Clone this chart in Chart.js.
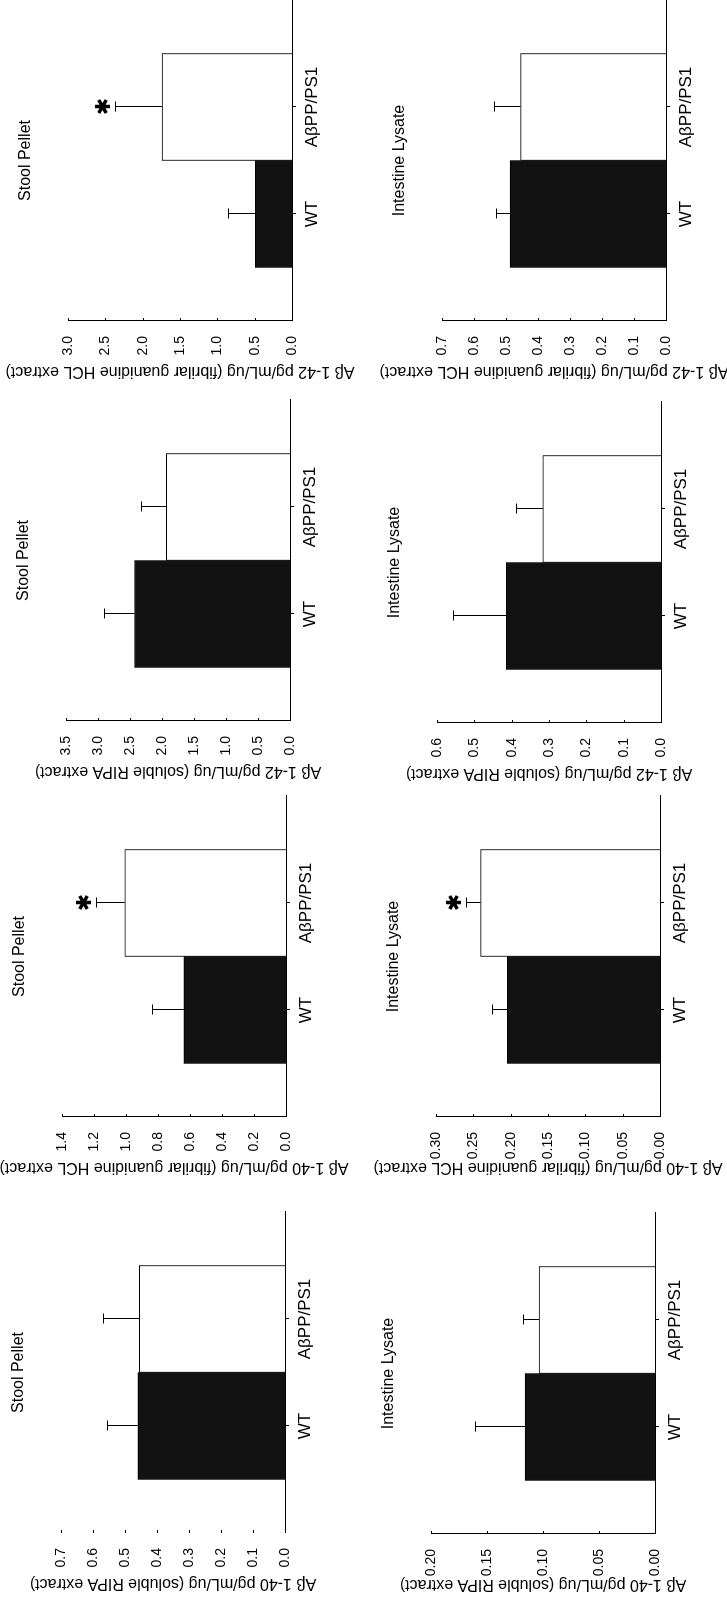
<!DOCTYPE html>
<html>
<head>
<meta charset="utf-8">
<script src="https://cdn.jsdelivr.net/npm/chart.js@4"></script>
<style>
  html, body { margin: 0; padding: 0; background: #fff; overflow: hidden; }
  body { width: 727px; height: 1600px; position: relative; }
  /* the figure is laid out 1600x727 and turned a quarter turn counter-clockwise */
  #fig {
    position: absolute; left: 0; top: 0;
    width: 1600px; height: 727px;
    transform-origin: 0 0;
    transform: translateY(1600px) rotate(-90deg);
  }
  #fig canvas { position: absolute; }
</style>
</head>
<body>
<div id="fig"></div>
<script>
// categories and panel texts
const categories = ['WT', 'AβPP/PS1'];
const sampleTitles = ['Stool Pellet', 'Intestine Lysate'];
const axisTitles = [
    'Aβ 1-40 pg/mL/ug (soluble RIPA extract)',
    'Aβ 1-40 pg/mL/ug (fibrilar guanidine HCL extract)',
    'Aβ 1-42 pg/mL/ug (soluble RIPA extract)',
    'Aβ 1-42 pg/mL/ug (fibrilar guanidine HCL extract)'
];

// stool pellet: [WT, AβPP/PS1] per extract
const stoolMeans = [[0.46, 0.455], [0.638, 1.008], [2.43, 1.934], [0.49, 1.741]];
const stoolErrors = [[0.095, 0.115], [0.20, 0.18], [0.47, 0.39], [0.37, 0.625]];
const stoolStars = [[false, false], [false, true], [false, false], [false, true]];
const stoolAxisMax = [0.7, 1.4, 3.5, 3.0];
const stoolAxisStep = [0.1, 0.2, 0.5, 0.5];

// intestine lysate: [WT, AβPP/PS1] per extract
const intestineMeans = [[0.116, 0.1036], [0.2045, 0.2403], [0.4146, 0.3164], [0.487, 0.4545]];
const intestineErrors = [[0.045, 0.014], [0.02, 0.02], [0.143, 0.071], [0.045, 0.083]];
const intestineStars = [[false, false], [false, true], [false, false], [false, false]];
const intestineAxisMax = [0.20, 0.30, 0.6, 0.7];
const intestineAxisStep = [0.05, 0.05, 0.1, 0.1];

// layout of the plot areas inside the unrotated 1600x727 figure
const rowOffset = [0, 363];
const plotLeft = [[67, 483, 879, 1279], [66, 483, 877, 1279]];
const plotTop = [[61, 62, 66, 68], [68, 73, 74, 79]];
const PLOT_W = 321, PLOT_H = 224, AXIS_W = 60, PAD_TOP = 80, XAXIS_H = 30, PAD_BOTTOM = 50, PAD_RIGHT = 6;
const FONT = '"Liberation Sans", Arial, sans-serif';

Chart.defaults.font.family = FONT;
Chart.defaults.color = '#000';

function drawStar(ctx, cx, cy, r) {
    ctx.save();
    ctx.lineWidth = 3.5;
    ctx.beginPath();
    [90, 30, 150].forEach(deg => {
        const a = deg * Math.PI / 180;
        ctx.moveTo(cx - r * Math.cos(a), cy - r * Math.sin(a));
        ctx.lineTo(cx + r * Math.cos(a), cy + r * Math.sin(a));
    });
    ctx.stroke();
    ctx.restore();
}

// error bars, asterisks, inward ticks and the panel texts
const panelDecor = {
    id: 'panelDecor',
    afterDatasetsDraw(chart, args, opts) {
        const {ctx, chartArea: a, scales: {y}} = chart;
        const meta = chart.getDatasetMeta(0);
        ctx.save();
        ctx.strokeStyle = '#000';
        ctx.fillStyle = '#000';
        ctx.lineWidth = 1;

        opts.means.forEach((m, i) => {
            const bar = meta.data[i + 1];
            const x = Math.round(bar.x) + 0.5;
            const yBase = y.getPixelForValue(m);
            const yTop = Math.round(y.getPixelForValue(m + opts.errors[i])) + 0.5;
            ctx.beginPath();
            ctx.moveTo(x, yBase);
            ctx.lineTo(x, yTop);
            ctx.moveTo(x - 5, yTop);
            ctx.lineTo(x + 5, yTop);
            ctx.stroke();
            if (opts.stars[i]) drawStar(ctx, x, yTop - 13, 7.5);
        });

        // value ticks point into the plot
        y.ticks.forEach((t, i) => {
            const py = Math.round(y.getPixelForTick(i)) + 0.5;
            ctx.beginPath();
            ctx.moveTo(a.left, py);
            ctx.lineTo(a.left + 3, py);
            ctx.stroke();
        });

        ctx.textAlign = 'center';
        ctx.textBaseline = 'middle';
        ctx.font = '16px ' + FONT;
        ctx.fillText(opts.title, (a.left + a.right) / 2, a.top - 42);

        ctx.translate(a.left - 50, (a.top + a.bottom) / 2);
        ctx.rotate(-Math.PI / 2);
        ctx.fillText(opts.axisTitle, 0, 0);
        ctx.restore();
    }
};

const fig = document.getElementById('fig');

function makePanel(row, col, means, errors, stars, max, step) {
    const canvas = document.createElement('canvas');
    canvas.width = AXIS_W + PLOT_W + PAD_RIGHT;
    canvas.height = PAD_TOP + PLOT_H + XAXIS_H + PAD_BOTTOM;
    canvas.style.left = (plotLeft[row][col] - AXIS_W) + 'px';
    canvas.style.top = (rowOffset[row] + plotTop[row][col] - PAD_TOP) + 'px';
    fig.appendChild(canvas);

    const decimals = step < 0.1 ? 2 : 1;
    const showValueLine = !(row === 0 && col === 0);

    new Chart(canvas.getContext('2d'), {
        type: 'bar',
        data: {
            labels: [''].concat(categories, ['']),
            datasets: [{
                data: [null].concat(means, [null]),
                backgroundColor: ['rgba(0,0,0,0)', '#111', '#fff', 'rgba(0,0,0,0)'],
                borderColor: '#000',
                borderWidth: 1,
                barPercentage: 1,
                categoryPercentage: 1
            }]
        },
        options: {
            responsive: false,
            animation: false,
            events: [],
            layout: { padding: { top: PAD_TOP, bottom: PAD_BOTTOM, left: 0, right: 0 } },
            plugins: {
                legend: { display: false },
                tooltip: { enabled: false },
                panelDecor: {
                    means: means,
                    errors: errors,
                    stars: stars,
                    title: sampleTitles[row],
                    axisTitle: axisTitles[col]
                }
            },
            scales: {
                x: {
                    type: 'category',
                    offset: false,
                    afterFit: s => { s.height = XAXIS_H; },
                    grid: {
                        offset: false,
                        drawOnChartArea: false,
                        tickLength: 4,
                        color: c => (c.index === 1 || c.index === 2) ? '#000' : 'rgba(0,0,0,0)'
                    },
                    border: { display: true, color: '#000', width: 1 },
                    ticks: {
                        font: { size: 17 },
                        color: '#000',
                        maxRotation: 0,
                        autoSkip: false,
                        padding: 6
                    }
                },
                y: {
                    min: 0,
                    max: max,
                    afterFit: s => { s.width = AXIS_W; },
                    grid: { display: false },
                    border: { display: showValueLine, color: '#000', width: 1 },
                    ticks: {
                        stepSize: step,
                        font: { size: 14 },
                        color: '#000',
                        padding: 7,
                        callback: v => Number(v).toFixed(decimals)
                    }
                }
            }
        },
        plugins: [panelDecor]
    });
}

for (let col = 0; col < 4; col++) {
    makePanel(0, col, stoolMeans[col], stoolErrors[col], stoolStars[col], stoolAxisMax[col], stoolAxisStep[col]);
    makePanel(1, col, intestineMeans[col], intestineErrors[col], intestineStars[col], intestineAxisMax[col], intestineAxisStep[col]);
}
</script>
</body>
</html>
